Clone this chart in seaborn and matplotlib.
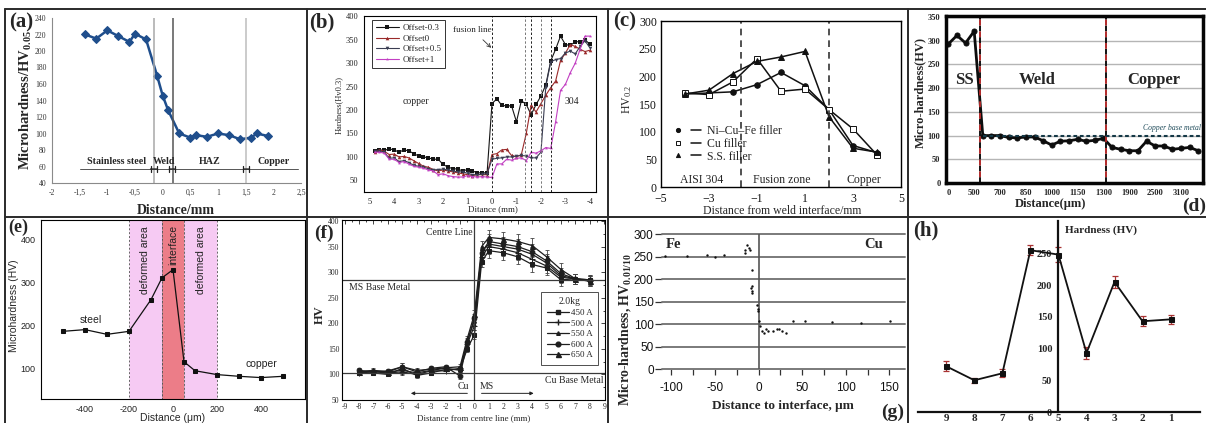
import numpy as np
import pandas as pd
import matplotlib
matplotlib.use("Agg")
import matplotlib.pyplot as plt
import seaborn as sns
from matplotlib.lines import Line2D
from matplotlib.legend_handler import HandlerTuple
from matplotlib.ticker import MultipleLocator

# ---------------------------------------------------------------- data
# (a) Excel-style profile
a_dist = [-1.4, -1.2, -1.0, -0.8, -0.6, -0.5, -0.3, -0.1, 0.0, 0.1, 0.3, 0.5, 0.6, 0.8, 1.0, 1.2, 1.4, 1.6, 1.7, 1.9]
a_hv = [220, 215, 225, 218, 211, 221, 214, 170, 146, 128, 100, 95, 98, 96, 100, 98, 93, 95, 100, 97]
a_bounds = [-0.15, 0.18, 1.5]
a_zones = ["Stainless steel", "Weld", "HAZ", "Copper"]
a_zone_x = [-0.83, 0.02, 0.85, 2.0]
a_ticks = [-2, -1.5, -1, -0.5, 0, 0.5, 1, 1.5, 2, 2.5]
a_ticklabels = ["-2", "-1,5", "-1", "-0,5", "0", "0,5", "1", "1,5", "2", "2,5"]

# (b) four offsets across the fusion line
b_dist = [4.8, 4.6, 4.4, 4.2, 4.0, 3.8, 3.6, 3.4, 3.2, 3.0, 2.8, 2.6, 2.4, 2.2, 2.0, 1.8, 1.6, 1.4, 1.2, 1.0,
          0.8, 0.6, 0.4, 0.2, 0.0, -0.2, -0.4, -0.6, -0.8, -1.0, -1.2, -1.4, -1.6, -1.8, -2.0, -2.2, -2.4,
          -2.6, -2.8, -3.0, -3.2, -3.4, -3.6, -3.8, -4.0]
b_off_m03 = [112, 115, 114, 117, 115, 110, 115, 113, 107, 102, 100, 98, 95, 95, 84, 78, 75, 74, 70, 73,
             70, 66, 66, 66, 214, 224, 210, 209, 209, 175, 220, 212, 190, 212, 230, 254, 305,
             330, 358, 340, 338, 346, 346, 350, 341]
b_off_0 = [110, 115, 112, 105, 106, 100, 101, 98, 92, 86, 80, 78, 73, 70, 72, 70, 68, 66, 64, 62,
           60, 62, 62, 62, 105, 107, 115, 116, 103, 100, 105, 150, 210, 196, 214, 232, 248,
           262, 306, 322, 340, 336, 330, 325, 328]
b_off_p05 = [113, 112, 110, 97, 98, 90, 92, 88, 82, 80, 78, 75, 72, 73, 74, 72, 70, 68, 68, 65,
             62, 62, 63, 64, 95, 97, 98, 100, 100, 102, 103, 102, 98, 98, 110, 250, 303,
             308, 310, 322, 326, 320, 336, 348, 333]
b_off_p1 = [110, 110, 108, 95, 95, 88, 90, 85, 80, 78, 76, 72, 70, 62, 64, 60, 58, 57, 57, 60,
            58, 57, 58, 57, 56, 85, 85, 95, 93, 97, 98, 92, 110, 108, 113, 120, 118,
            175, 242, 255, 280, 300, 330, 358, 358]
b_names = ["Offset-0.3", "Offset0", "Offset+0.5", "Offset+1"]
b_colors = ["#151515", "#9a2a2a", "#3a3d52", "#c23fc2"]
b_markers = ["s", "^", "v", "*"]
b_zone_lines = [0.0, -1.35, -1.6, -2.0, -2.42]

# (c) three fillers
c_dist = [-4, -3, -2, -1, 0, 1, 2, 3, 4]
c_nicufe = [168, 170, 172, 185, 207, 183, 140, 75, 62]
c_cu = [170, 167, 190, 232, 173, 177, 140, 105, 58]
c_ss = [168, 175, 205, 227, 235, 245, 127, 70, 63]
c_names = ["Ni\u2013Cu\u2013Fe filler", "Cu filler", "S.S. filler"]
c_bounds = [-1.65, 2.0]

# (d) indexed traverse
d_hv = [293, 311, 295, 320, 100, 100, 100, 96, 95, 97, 97, 89, 80, 88, 89, 92, 88, 90, 94, 75,
        71, 68, 68, 88, 78, 78, 71, 73, 75, 68]
d_tick_pos = [0, 3, 6, 9, 12, 15, 18, 21, 24, 27]
d_tick_labels = ["0", "500", "700", "850", "1000", "1150", "1300", "1900", "2500", "3100"]
d_bounds = [3.67, 18.3]
d_copper_base = 100

# (e) steel / copper interface
e_dist = [-500, -400, -300, -200, -100, -50, 0, 50, 100, 200, 300, 400, 500]
e_hv = [186, 190, 179, 186, 260, 311, 330, 115, 94, 85, 81, 78, 81]

# (f) five welding currents
f_dist = [-8, -7, -6, -5, -4, -3, -2, -1, -0.5, 0, 0.5, 1, 2, 3, 4, 5, 6, 7, 8]
f_450 = [102, 103, 100, 112, 98, 103, 110, 110, 150, 178, 320, 342, 338, 330, 315, 308, 285, 287, 285]
f_500 = [103, 105, 103, 105, 100, 107, 107, 112, 160, 195, 330, 350, 345, 338, 325, 312, 290, 287, 283]
f_550 = [105, 107, 105, 108, 103, 108, 112, 108, 165, 205, 340, 355, 350, 345, 335, 318, 293, 287, 282]
f_600 = [108, 105, 107, 115, 105, 112, 115, 97, 163, 210, 338, 360, 355, 350, 340, 322, 297, 287, 285]
f_650 = [105, 108, 105, 115, 108, 110, 113, 115, 170, 218, 350, 368, 365, 360, 352, 330, 305, 287, 283]
f_err = [4, 4, 4, 7, 5, 4, 4, 5, 6, 8, 10, 14, 14, 15, 15, 14, 12, 10, 10]
f_names = ["450 A", "500 A", "550 A", "600 A", "650 A"]
f_markers = ["s", "+", "^", "o", "^"]
f_msizes = [3.4, 4.0, 2.6, 3.4, 3.6]
f_ms_base = 285
f_cu_base = 102

# (g) scattered indents
g_dist = [-107, -82, -59, -50, -40, -16, -15, -13, -11, -10, -8, -8, -9, -8, -8, -2, -1, -1, 1, 2, 4, 6, 9,
          11, 17, 21, 23, 27, 32, 40, 53, 84, 118, 151]
g_hv = [251, 251, 253, 249, 253, 257, 264, 275, 269, 264, 219, 185, 180, 174, 169, 143, 134, 128, 106, 95, 85,
        81, 88, 84, 85, 90, 88, 85, 80, 107, 107, 105, 102, 107]

# (h) nine positions with error bars
h_labels = ["9", "8", "7", "6", "5", "4", "3", "2", "1"]
h_hv = [72, 50, 61, 255, 248, 93, 205, 143, 146]
h_err = [8, 4, 6, 8, 12, 9, 9, 8, 7]

# ---------------------------------------------------------------- style
sns.set_theme(style="white")
SERIF = ["Liberation Serif", "DejaVu Serif"]
SANS = ["Liberation Sans", "DejaVu Sans"]
plt.rcParams["font.family"] = SERIF
plt.rcParams["mathtext.fontset"] = "custom"
plt.rcParams["mathtext.rm"] = "Liberation Serif"
plt.rcParams["mathtext.it"] = "Liberation Serif:italic"
plt.rcParams["mathtext.bf"] = "Liberation Serif:bold"
plt.rcParams["axes.edgecolor"] = "black"
plt.rcParams["axes.unicode_minus"] = False

W, H = 1206, 423
fig = plt.figure(figsize=(W / 100, H / 100), dpi=100)
fig.patch.set_facecolor("white")


def axes_px(x0, y0, x1, y1):
    ax = fig.add_axes([x0 / W, 1 - y1 / H, (x1 - x0) / W, (y1 - y0) / H])
    ax.set_facecolor("white")
    return ax


def ftext(x, y, s, **kw):
    kw.setdefault("ha", "center")
    kw.setdefault("va", "center")
    fig.text(x / W, 1 - y / H, s, **kw)


def panel_letter(x, y, s, size=15):
    ftext(x, y, s, fontsize=size, fontweight="bold", family=SERIF)


# ---------------------------------------------------------------- (a)
ax = axes_px(52, 18, 301, 183)
sns.lineplot(x=a_dist, y=a_hv, ax=ax, color="#1F4E8C", lw=1.8, marker="D", ms=3.8,
             mec="#1F4E8C", errorbar=None)
ax.set_xlim(-2, 2.5)
ax.set_ylim(40, 240)
for xv, col in zip(a_bounds, ["#a8a8a8", "#555555", "#bdbdbd"]):
    ax.axvline(xv, color=col, lw=1.1)
ax.plot([-1.5, 2.45], [57, 57], color="#555555", lw=0.7)
for x0, x1 in [(-0.27, -0.05), (0.07, 0.28), (1.41, 1.61)]:
    ax.annotate("", xy=(x1, 57), xytext=(x0, 57),
                arrowprops=dict(arrowstyle="|-|", lw=0.9, color="#222222", mutation_scale=2.5))
for name, xv in zip(a_zones, a_zone_x):
    ax.text(xv, 66, name, ha="center", va="center", fontsize=7.2, fontweight="bold")
ax.set_xticks(a_ticks)
ax.set_xticklabels(a_ticklabels)
ax.set_yticks(range(40, 241, 20))
ax.tick_params(labelsize=5.5, length=2, width=0.6, colors="#333333", pad=2, direction="out")
for s in ["top", "right"]:
    ax.spines[s].set_visible(False)
for s in ["left", "bottom"]:
    ax.spines[s].set_color("#8a8a8a")
    ax.spines[s].set_linewidth(0.8)
ax.set_xlabel("")
ax.set_ylabel("")
ftext(26, 100, "Microhardness/HV$_{\\mathbf{0.05}}$", rotation=90, fontsize=10.5, fontweight="bold")
ftext(176, 210, "Distance/mm", fontsize=10, fontweight="bold")
panel_letter(21, 22, "(a)")

# ---------------------------------------------------------------- (b)
ax = axes_px(364, 16, 596, 192)
b_frame = pd.DataFrame({
    "dist": b_dist * 4,
    "hv": b_off_m03 + b_off_0 + b_off_p05 + b_off_p1,
    "series": sum([[n] * len(b_dist) for n in b_names], []),
})
sns.lineplot(data=b_frame, x="dist", y="hv", hue="series", style="series", ax=ax,
             palette=dict(zip(b_names, b_colors)), markers=dict(zip(b_names, b_markers)),
             dashes=False, lw=0.8, ms=2.6, mew=0, legend=False, errorbar=None)
ax.set_xlim(5.23, -4.25)
ax.set_ylim(25, 401)
for i, xv in enumerate(b_zone_lines):
    ax.axvline(xv, color="#222222" if i % 2 == 0 else "#777777", lw=0.7, ls=(0, (2.5, 2)))
ax.annotate("fusion line", xy=(0.03, 333), xytext=(0.8, 372), fontsize=6.5, ha="center", va="center",
            arrowprops=dict(arrowstyle="->", lw=0.6, color="#333333", shrinkA=3, shrinkB=0))
ax.text(3.1, 218, "copper", fontsize=7, ha="center", va="center")
ax.text(-3.25, 218, "304", fontsize=7, ha="center", va="center")
handles = [Line2D([], [], color=c, marker=m, ms=2.6, lw=0.8, mew=0) for c, m in zip(b_colors, b_markers)]
leg = ax.legend(handles, b_names, loc="upper left", bbox_to_anchor=(0.035, 0.975), borderaxespad=0,
                fontsize=6.5, frameon=True, fancybox=False, edgecolor="black", handlelength=2.6,
                labelspacing=0.25, borderpad=0.4, handletextpad=0.4)
leg.get_frame().set_linewidth(0.7)
ax.set_xticks([5, 4, 3, 2, 1, 0, -1, -2, -3, -4])
ax.set_yticks(range(50, 401, 50))
ax.tick_params(labelsize=6, length=2.5, width=0.6, pad=1.5, direction="out", colors="#222222")
for s in ax.spines.values():
    s.set_linewidth(0.8)
ax.set_xlabel("")
ax.set_ylabel("")
ftext(339, 105, "Hardness(Hv0.3)", rotation=90, fontsize=6)
ftext(493, 209, "Ditance (mm)", fontsize=6.5)
panel_letter(322, 22, "(b)")

# ---------------------------------------------------------------- (c)
ax = axes_px(661, 21, 901, 187)
c_frame = pd.DataFrame({
    "dist": c_dist * 3,
    "hv": c_nicufe + c_cu + c_ss,
    "filler": sum([[n] * len(c_dist) for n in c_names], []),
})
sns.lineplot(data=c_frame, x="dist", y="hv", hue="filler", style="filler", ax=ax,
             palette=dict(zip(c_names, ["#111111"] * 3)), markers=dict(zip(c_names, ["o", "s", "^"])),
             dashes=False, lw=1.1, ms=4, legend=False, errorbar=None)
for line, face in zip(ax.get_lines()[:3], ["#111111", "white", "#111111"]):
    line.set_markerfacecolor(face)
    line.set_markeredgecolor("#111111")
    line.set_markeredgewidth(0.7)
for xv in c_bounds:
    ax.axvline(xv, color="#333333", lw=1.2, ls=(0, (4, 3)))
ax.set_xlim(-5, 5)
ax.set_ylim(0, 300)
ax.text(-3.3, 13, "AISI 304", fontsize=8.5, ha="center", va="center")
ax.text(0.05, 13, "Fusion zone", fontsize=8.5, ha="center", va="center")
ax.text(3.47, 13, "Copper", fontsize=8.5, ha="center", va="center")
c_handles = [(Line2D([], [], ls="none", marker=m, ms=3, color="#111111", mfc=f, mew=0.7),
              Line2D([], [], ls="-", lw=1.1, color="#111111"))
             for m, f in zip(["o", "s", "^"], ["#111111", "white", "#111111"])]
ax.legend(c_handles, c_names, handler_map={tuple: HandlerTuple(ndivide=None, pad=0.6)},
          loc="upper left", bbox_to_anchor=(0.03, 0.40), borderaxespad=0, frameon=False,
          fontsize=8.5, handlelength=2.4, labelspacing=0.05, handletextpad=0.5)
ax.set_xticks([-5, -3, -1, 1, 3, 5])
ax.set_xticklabels(["\u22125", "\u22123", "\u22121", "1", "3", "5"])
ax.xaxis.set_minor_locator(MultipleLocator(1))
ax.set_yticks(range(0, 301, 50))
ax.tick_params(which="both", labelsize=8.5, direction="in", width=0.8, colors="#111111")
ax.tick_params(axis="x", pad=4.5)
ax.tick_params(axis="y", pad=3.0)
ax.tick_params(which="major", length=3)
ax.tick_params(which="minor", length=1.8)
for s in ax.spines.values():
    s.set_linewidth(1.0)
ax.set_xlabel("")
ax.set_ylabel("")
ftext(627, 100, "HV$_{0.2}$", rotation=90, fontsize=8.5)
ftext(782, 211, "Distance from weld interface/mm", fontsize=8.5)
panel_letter(625, 21, "(c)")

# ---------------------------------------------------------------- (d)
ax = axes_px(946, 16, 1203, 183)
ax.yaxis.grid(True, color="#b5b5b5", lw=1.0)
ax.set_axisbelow(True)
sns.lineplot(x=list(range(len(d_hv))), y=d_hv, ax=ax, color="#0d0d0d", lw=2.0, marker="o", ms=3.6,
             mec="#0d0d0d", errorbar=None)
ax.set_xlim(-0.27, 29.55)
ax.set_ylim(0, 352)
for xv in d_bounds:
    ax.axvline(xv, color="#111111", lw=1.4, ls=(0, (3, 3)))
    ax.axvline(xv, color="#b02828", lw=1.4, ls=(3, (3, 3)))
ax.plot([4, 29.55], [d_copper_base, d_copper_base], color="#143846", lw=1.5, ls=(0, (1.8, 1.3)))
ax.text(26.0, 116, "Copper base metal", fontsize=5.5, style="italic", color="#1f4b5a", ha="center", va="center")
ax.text(1.9, 217, "SS", fontsize=12, fontweight="bold", ha="center", va="center")
ax.text(10.3, 217, "Weld", fontsize=12, fontweight="bold", ha="center", va="center")
ax.text(23.8, 217, "Copper", fontsize=12, fontweight="bold", ha="center", va="center")
ax.set_xticks(d_tick_pos)
ax.set_xticklabels(d_tick_labels)
ax.set_yticks(range(0, 351, 50))
ax.tick_params(labelsize=6, length=0, pad=4)
for lab in ax.get_xticklabels() + ax.get_yticklabels():
    lab.set_fontweight("bold")
for s in ax.spines.values():
    s.set_linewidth(2.5)
    s.set_color("#050505")
ax.set_xlabel("")
ax.set_ylabel("")
ftext(920, 92, "Micro-hardness(HV)", rotation=90, fontsize=9, fontweight="bold")
ftext(1050, 204, "Distance(\u03bcm)", fontsize=9, fontweight="bold")
panel_letter(1194, 206, "(d)", size=14)

# ---------------------------------------------------------------- (e)
ax = axes_px(41, 220, 305, 399)
ax.axvspan(-200, -50, facecolor="#f6caf3", edgecolor="#666666", ls=(0, (2, 2)), lw=0.7)
ax.axvspan(-50, 50, facecolor="#ec7d88", edgecolor="#555555", ls=(0, (2, 2)), lw=0.7)
ax.axvspan(50, 200, facecolor="#f6caf3", edgecolor="#666666", ls=(0, (2, 2)), lw=0.7)
sns.lineplot(x=e_dist, y=e_hv, ax=ax, color="#111111", lw=0.9, marker="s", ms=3.4, mec="#111111",
             errorbar=None)
ax.set_xlim(-600, 600)
ax.set_ylim(28, 446)
ax.text(-125, 351, "deformed area", rotation=90, fontsize=7.5, family=SANS, ha="center", va="center", color="#222")
ax.text(0, 388, "interface", rotation=90, fontsize=7.5, family=SANS, ha="center", va="center", color="#222")
ax.text(125, 351, "deformed area", rotation=90, fontsize=7.5, family=SANS, ha="center", va="center", color="#222")
ax.text(-375, 212, "steel", fontsize=7.5, family=SANS, ha="center", va="center", color="#222")
ax.text(400, 110, "copper", fontsize=7.5, family=SANS, ha="center", va="center", color="#222")
ax.set_xticks([-400, -200, 0, 200, 400])
ax.set_yticks([100, 200, 300, 400])
ax.xaxis.set_minor_locator(MultipleLocator(100))
ax.yaxis.set_minor_locator(MultipleLocator(50))
ax.tick_params(which="both", labelsize=6.5, direction="out", width=0.6, pad=1.5, colors="#222222")
ax.tick_params(which="major", length=2.5)
ax.tick_params(which="minor", length=1.5)
for lab in ax.get_xticklabels() + ax.get_yticklabels():
    lab.set_family(SANS)
for s in ax.spines.values():
    s.set_linewidth(0.8)
ax.set_xlabel("")
ax.set_ylabel("")
ftext(14, 306, "Microhardness (HV)", rotation=90, fontsize=7.5, family=SANS)
ftext(173, 418, "Distance (\u03bcm)", fontsize=7.5, family=SANS)
panel_letter(18, 227, "(e)", size=13)

# ---------------------------------------------------------------- (f)
ax = axes_px(342, 220, 605, 400)
f_series = [f_450, f_500, f_550, f_600, f_650]
for vals in f_series:
    ax.errorbar(f_dist, vals, yerr=f_err, fmt="none", ecolor="#444444", elinewidth=0.6, capsize=1.5,
                capthick=0.6)
for vals, m, msz in zip(f_series, f_markers, f_msizes):
    sns.lineplot(x=f_dist, y=vals, ax=ax, color="#1e1e1e", lw=0.9, marker=m, ms=msz, mec="#1e1e1e",
                 errorbar=None)
ax.axhline(f_ms_base, color="#3a3a3a", lw=0.9)
ax.axhline(f_cu_base, color="#3a3a3a", lw=0.9)
ax.axvline(0, color="#3a3a3a", lw=0.9)
ax.set_xlim(-9.18, 9.05)
ax.set_ylim(50, 402)
ax.text(-1.75, 378, "Centre Line", fontsize=7, ha="center", va="center")
ax.text(-6.55, 270, "MS Base Metal", fontsize=7, ha="center", va="center")
ax.text(6.9, 88, "Cu Base Metal", fontsize=7, ha="center", va="center")
ax.text(-0.75, 76, "Cu", fontsize=7, ha="center", va="center")
ax.text(0.85, 76, "MS", fontsize=7, ha="center", va="center")
ax.annotate("", xy=(-4.6, 63), xytext=(-0.3, 63),
            arrowprops=dict(arrowstyle="-|>", lw=0.7, color="#222222", mutation_scale=5))
ax.annotate("", xy=(4.3, 63), xytext=(0.3, 63),
            arrowprops=dict(arrowstyle="-|>", lw=0.7, color="#222222", mutation_scale=5))
f_handles = [Line2D([], [], color="#1e1e1e", marker=m, ms=msz, lw=0.9) for m, msz in zip(f_markers, f_msizes)]
leg = ax.legend(f_handles, f_names, title="2.0kg", loc="upper right", bbox_to_anchor=(0.975, 0.6),
                borderaxespad=0, fontsize=6.5, title_fontsize=7, frameon=True, fancybox=False,
                edgecolor="#222222", handlelength=2.4, labelspacing=0.25, borderpad=0.6,
                handletextpad=0.3)
leg.get_frame().set_linewidth(0.7)
ax.set_xticks(range(-9, 10))
ax.xaxis.set_minor_locator(MultipleLocator(0.5))
ax.set_yticks(range(50, 401, 50))
ax.yaxis.set_minor_locator(MultipleLocator(25))
ax.tick_params(which="both", labelsize=5.5, direction="in", top=True, right=True, width=0.6, pad=2)
ax.tick_params(which="major", length=3)
ax.tick_params(which="minor", length=1.6)
for s in ax.spines.values():
    s.set_linewidth(0.8)
ax.set_xlabel("")
ax.set_ylabel("")
ftext(320, 315, "HV", rotation=90, fontsize=9, fontweight="bold")
ftext(474, 418, "Distance from centre line (mm)", fontsize=6.5)
panel_letter(324, 233, "(f)", size=14)

# ---------------------------------------------------------------- (g)
ax = axes_px(662, 234, 905, 369)
for yv in range(0, 301, 50):
    ax.axhline(yv, color="#7a7a7a", lw=1.4, clip_on=False, zorder=1)
ax.plot([0, 0], [0, 300], color="#555555", lw=1.2, zorder=2)
sns.scatterplot(x=g_dist, y=g_hv, ax=ax, color="#111111", s=3, linewidth=0, zorder=3)
ax.set_xlim(-110.7, 168)
ax.set_ylim(0, 300)
ax.text(-97, 277, "Fe", fontsize=10.5, fontweight="bold", ha="center", va="center")
ax.text(132, 277, "Cu", fontsize=10.5, fontweight="bold", ha="center", va="center")
for s in ax.spines.values():
    s.set_visible(False)
ax.set_xticks([-100, -50, 0, 50, 100, 150])
ax.xaxis.set_minor_locator(MultipleLocator(25))
ax.set_yticks(range(0, 301, 50))
ax.tick_params(axis="both", which="both", labelsize=8.5, colors="#333333", width=0.9)
ax.tick_params(axis="x", which="both", direction="out", length=4, pad=5, bottom=True)
ax.tick_params(axis="y", which="both", direction="out", length=5, pad=1, left=True)
for lab in ax.get_xticklabels() + ax.get_yticklabels():
    lab.set_family(SANS)
    lab.set_color("#111111")
ax.set_xlabel("")
ax.set_ylabel("")
ftext(625, 330, "Micro-hardness, HV$_{\\mathbf{0.01/10}}$", rotation=90, fontsize=10, fontweight="bold")
ftext(783, 406, "Distance to interface, \u03bcm", fontsize=9.5, fontweight="bold")
panel_letter(893, 412, "(g)", size=14)

# ---------------------------------------------------------------- (h)
ax = axes_px(918, 221, 1200, 412)
h_pos = list(range(len(h_labels)))
ax.errorbar(h_pos, h_hv, yerr=h_err, fmt="none", ecolor="#a83232", elinewidth=0.9, capsize=2.2,
            capthick=0.9, zorder=2)
sns.lineplot(x=h_pos, y=h_hv, ax=ax, color="#111111", lw=1.3, marker="s", ms=3.6, mec="#111111",
             errorbar=None, zorder=3)
ax.set_xlim(-1.01, 9.05)
ax.set_ylim(0, 301)
ax.spines["left"].set_position(("data", 4))
ax.spines["top"].set_visible(False)
ax.spines["right"].set_visible(False)
for s in ["left", "bottom"]:
    ax.spines[s].set_linewidth(1.6)
    ax.spines[s].set_color("#111111")
ax.set_xticks(h_pos)
ax.set_xticklabels(h_labels)
ax.set_yticks(range(0, 301, 50))
ax.set_yticklabels(["0", "50", "100", "150", "200", "250", ""])
ax.yaxis.set_minor_locator(MultipleLocator(25))
ax.tick_params(axis="x", length=0, pad=1.5, labelsize=8)
ax.tick_params(axis="y", which="both", direction="inout", width=1.2, labelsize=7.5, pad=1)
ax.tick_params(axis="y", which="major", length=7)
ax.tick_params(axis="y", which="minor", length=5)
for lab in ax.get_xticklabels() + ax.get_yticklabels():
    lab.set_fontweight("bold")
ax.text(4.25, 286, "Hardness (HV)", fontsize=8, fontweight="bold", ha="left", va="center")
ax.set_xlabel("")
ax.set_ylabel("")
panel_letter(926, 230, "(h)")

# ---------------------------------------------------------------- frame lines between panels
border = dict(color="#2a2a2a", lw=1.4, transform=fig.transFigure)
for yv in [9, 217]:
    fig.add_artist(Line2D([5 / W, 1], [1 - yv / H] * 2, **border))
for xv in [5, 307, 608, 908]:
    fig.add_artist(Line2D([xv / W] * 2, [1 - 9 / H, 0], **border))

fig.savefig("out.png", dpi=100, facecolor="white")
